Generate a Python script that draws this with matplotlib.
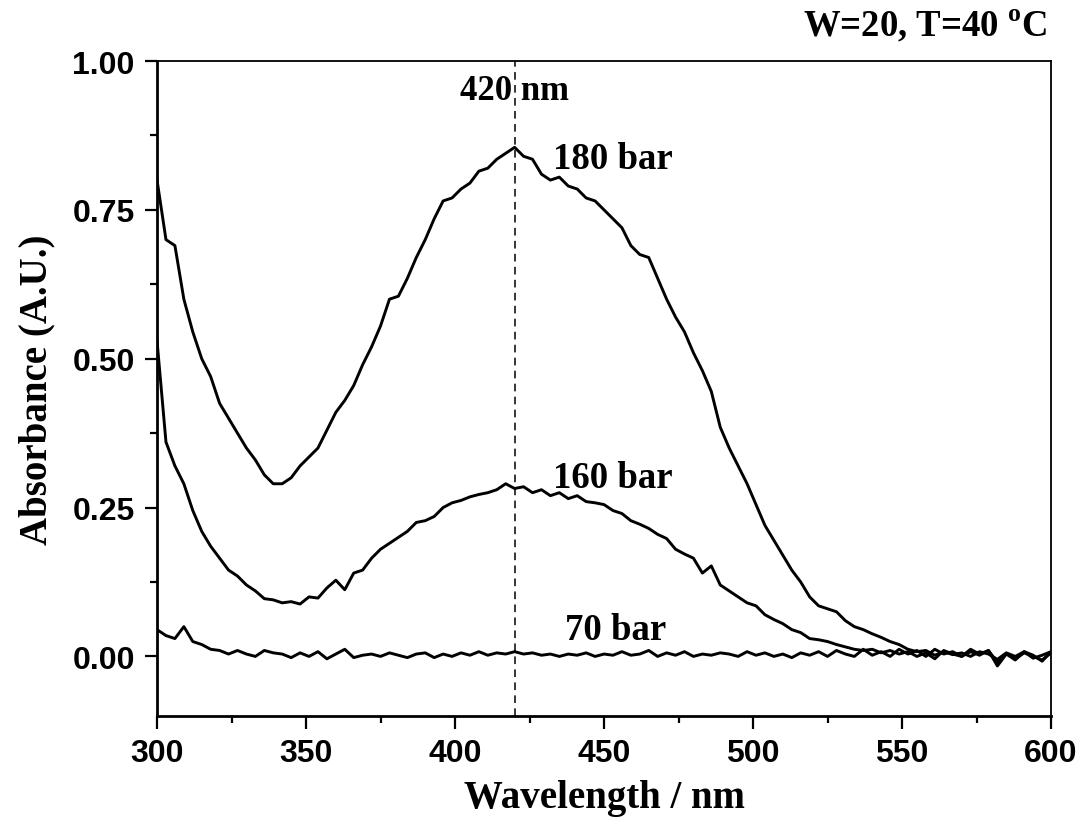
import numpy as np
import matplotlib
matplotlib.use("Agg")
import matplotlib.pyplot as plt
from matplotlib.ticker import MultipleLocator, FormatStrFormatter

# absorbance, 300-600 nm every 3 nm
a180 = [0.80, 0.70, 0.69, 0.60, 0.545, 0.50, 0.47, 0.425, 0.40, 0.375,
        0.35, 0.33, 0.305, 0.29, 0.29, 0.30, 0.32, 0.335, 0.35, 0.38,
        0.41, 0.43, 0.455, 0.49, 0.52, 0.555, 0.60, 0.605, 0.635, 0.67,
        0.70, 0.735, 0.765, 0.77, 0.785, 0.795, 0.815, 0.82, 0.835, 0.845,
        0.855, 0.84, 0.835, 0.81, 0.80, 0.805, 0.79, 0.785, 0.77, 0.765,
        0.75, 0.735, 0.72, 0.69, 0.675, 0.67, 0.635, 0.60, 0.57, 0.545,
        0.51, 0.48, 0.445, 0.385, 0.35, 0.32, 0.29, 0.255, 0.22, 0.195,
        0.17, 0.145, 0.125, 0.10, 0.085, 0.08, 0.075, 0.06, 0.05, 0.045,
        0.038, 0.032, 0.025, 0.02, 0.012, 0.008, 0.01, 0.002, 0.008, 0.003,
        0.006, 0.0, 0.008, 0.004, -0.005, 0.006, 0.0, 0.008, -0.003, 0.002,
        0.008]
a160 = [0.53, 0.36, 0.32, 0.29, 0.245, 0.21, 0.185, 0.165, 0.145, 0.135,
        0.12, 0.11, 0.097, 0.095, 0.09, 0.092, 0.088, 0.10, 0.098, 0.115,
        0.128, 0.112, 0.14, 0.145, 0.165, 0.18, 0.19, 0.20, 0.21, 0.225,
        0.228, 0.235, 0.25, 0.258, 0.262, 0.268, 0.272, 0.275, 0.28, 0.29,
        0.282, 0.285, 0.275, 0.28, 0.27, 0.275, 0.265, 0.27, 0.26, 0.258,
        0.255, 0.245, 0.24, 0.228, 0.222, 0.215, 0.205, 0.198, 0.18, 0.172,
        0.165, 0.14, 0.152, 0.12, 0.11, 0.10, 0.09, 0.085, 0.07, 0.062,
        0.055, 0.045, 0.04, 0.03, 0.028, 0.025, 0.02, 0.016, 0.012, 0.01,
        0.012, 0.006, 0.01, 0.004, 0.008, 0.0, 0.006, -0.004, 0.01, 0.004,
        0.0, 0.008, 0.002, 0.01, -0.01, 0.005, -0.004, 0.006, 0.0, -0.006,
        0.006]
a70 = [0.045, 0.035, 0.03, 0.05, 0.025, 0.02, 0.012, 0.01, 0.004, 0.01,
       0.004, 0.0, 0.01, 0.006, 0.004, -0.002, 0.006, 0.0, 0.008, -0.004,
       0.004, 0.012, -0.002, 0.002, 0.004, 0.0, 0.006, 0.002, -0.002, 0.004,
       0.006, -0.002, 0.004, 0.0, 0.006, 0.002, 0.008, 0.002, 0.006, 0.004,
       0.008, 0.004, 0.006, 0.002, 0.004, 0.0, 0.004, 0.002, 0.006, 0.0,
       0.004, 0.002, 0.008, 0.002, 0.004, 0.01, 0.0, 0.006, 0.002, 0.008,
       0.0, 0.004, 0.002, 0.006, 0.004, 0.0, 0.008, 0.002, 0.006, 0.0,
       0.004, -0.002, 0.006, 0.002, 0.008, 0.0, 0.01, 0.004, 0.0, 0.012,
       0.002, 0.008, 0.0, 0.012, 0.004, 0.01, 0.0, 0.012, 0.004, 0.008,
       0.0, 0.012, 0.004, 0.01, -0.016, 0.004, -0.006, 0.008, 0.002, -0.008,
       0.008]
wl = np.linspace(300, 600, len(a180))
labels = ["180 bar", "160 bar", "70 bar"]
label_pos = [(433.0, 0.836), (433.0, 0.300), (437.0, 0.045)]
peak_nm = 420

plt.rcParams["mathtext.fontset"] = "custom"
plt.rcParams["mathtext.bf"] = "Liberation Serif:bold"
plt.rcParams["mathtext.rm"] = "Liberation Serif:bold"

fig = plt.figure(figsize=(10.86, 8.28), dpi=100)
ax = fig.add_axes([0.1446, 0.1341, 0.8232, 0.791])

for a in (a180, a160, a70):
    ax.plot(wl, a, color="black", lw=2.1)

ax.axvline(peak_nm, color="black", lw=1.1, ls=(0, (5, 3.5)))

serif = dict(family="Liberation Serif", weight="bold")
ax.text(peak_nm, 0.951, "420 nm", fontsize=25, ha="center", va="center", **serif)
for lab, (x, y) in zip(labels, label_pos):
    ax.text(x, y, lab, fontsize=26.5, ha="left", va="center", **serif)
fig.text(0.964, 0.968, r"W=20, T=40 $^\mathbf{o}$C", fontsize=26.5,
         ha="right", va="center", **serif)

ax.set_xlim(300, 600)
ax.set_ylim(-0.1, 1.0)
ax.xaxis.set_major_locator(MultipleLocator(50))
ax.xaxis.set_minor_locator(MultipleLocator(25))
ax.yaxis.set_major_locator(MultipleLocator(0.25))
ax.yaxis.set_minor_locator(MultipleLocator(0.125))
ax.yaxis.set_major_formatter(FormatStrFormatter("%.2f"))

ax.tick_params(which="both", direction="out", top=False, right=False, width=1.6)
ax.tick_params(which="major", length=9, labelsize=23, pad=7)
ax.tick_params(which="minor", length=5)
for t in ax.get_xticklabels() + ax.get_yticklabels():
    t.set_family("Liberation Sans")
    t.set_weight("bold")

for side in ["left", "bottom"]:
    ax.spines[side].set_linewidth(2.0)
for side in ["top", "right"]:
    ax.spines[side].set_linewidth(1.3)

ax.set_xlabel("Wavelength / nm", fontsize=28, labelpad=8, **serif)
ax.set_ylabel("Absorbance (A.U.)", fontsize=28, labelpad=12, **serif)

fig.savefig("out.png", dpi=100)
